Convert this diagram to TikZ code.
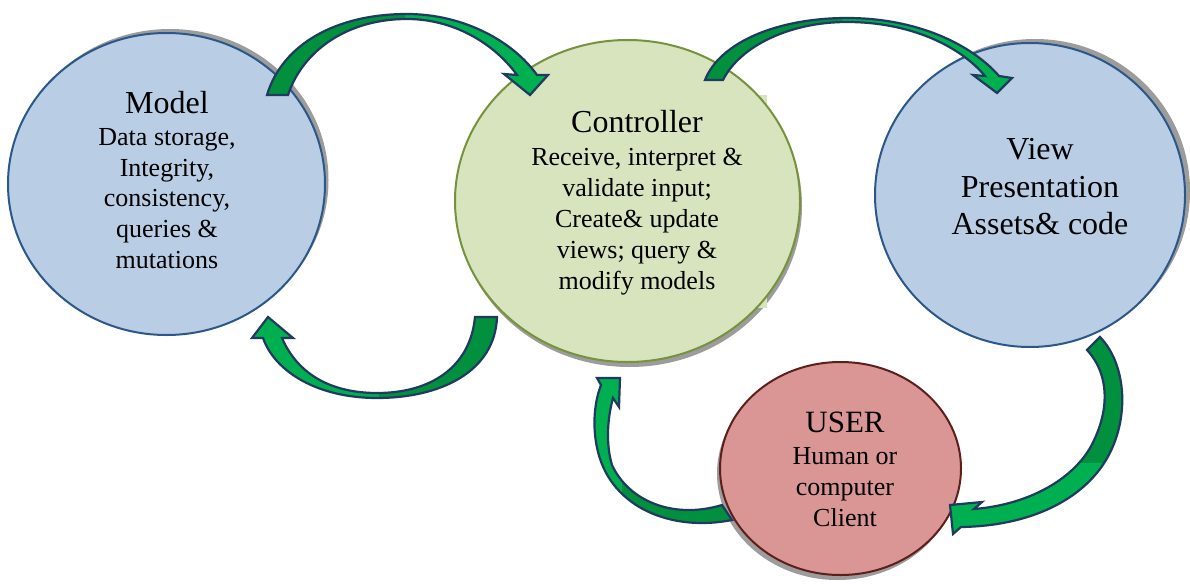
\documentclass[tikz,border=0pt]{standalone}
\usepackage{fontspec}
\setmainfont{Liberation Serif}
\usetikzlibrary{shapes.geometric}
\definecolor{modelfill}{HTML}{B9CDE5}
\definecolor{modeldraw}{HTML}{2C5789}
\definecolor{ctrlfill}{HTML}{D7E4BD}
\definecolor{ctrldraw}{HTML}{76923C}
\definecolor{userfill}{HTML}{D99694}
\definecolor{userdraw}{HTML}{5E1F1C}
\definecolor{shadowc}{HTML}{9C9C9C}
\definecolor{glight}{HTML}{00B050}
\definecolor{gdark}{HTML}{00903E}
\definecolor{navyc}{HTML}{203A60}
% curved block arrows (pixel coordinates, y downwards)
\newcommand\mvcArrA{(267,95) .. controls (282,45) and (335,14) .. (407,14) .. controls (462,14) and (512,40) .. (537,75) -- (548,75) -- (530,95) -- (504,74) -- (517,75) .. controls (493,42) and (452,19) .. (407,19) .. controls (348,19) and (303,50) .. (288,95) -- cycle}
\newcommand\mvcArrB{(497,317) .. controls (495,372) and (440,398) .. (377,398) .. controls (318,398) and (275,372) .. (263,338) -- (252,338) -- (268,317) -- (293,338) -- (282,338) .. controls (298,375) and (332,393) .. (377,393) .. controls (430,393) and (470,368) .. (475,317) -- cycle}
\newcommand\mvcArrC{(732,520) .. controls (672,532) and (612,508) .. (598,452) .. controls (592,428) and (594,403) .. (601,385) -- (597,378) -- (620,378) -- (619,407) -- (613,398) .. controls (607,420) and (606,445) .. (612,465) .. controls (628,500) and (672,520) .. (722,505) -- cycle}
\newcommand\mvcArrD{(1100,337) .. controls (1127,365) and (1130,420) .. (1106,460) .. controls (1082,500) and (1030,526) .. (961,527) -- (953,534) -- (950,505) -- (982,502) -- (974,509) .. controls (1025,505) and (1070,482) .. (1090,448) .. controls (1110,412) and (1110,375) .. (1087,350) -- cycle}
\newcommand\mvcArrE{(705,80) .. controls (720,42) and (778,18) .. (847,18) .. controls (918,18) and (972,45) .. (999,76) -- (1012,78) -- (997,93) -- (973,75) -- (985,76) .. controls (960,46) and (910,22) .. (847,22) .. controls (790,22) and (740,46) .. (723,80) -- cycle}
\begin{document}
\begin{tikzpicture}[x=1pt,y=-1pt,
  circ/.style={ellipse, inner sep=0pt, line width=2pt},
  arrowline/.style={draw=navyc, line width=2.2pt, line join=miter},
  txt/.style={anchor=north, align=center, inner sep=0pt}]
\useasboundingbox (0,0) rectangle (1190,583);
\fill[white] (0,0) rectangle (1190,583);
% shadows
\fill[shadowc] (170,180) ellipse [x radius=158.5pt, y radius=151pt];
\fill[shadowc] (629.5,206) ellipse [x radius=172.5pt, y radius=161pt];
\fill[shadowc] (1035,191) ellipse [x radius=155pt, y radius=152pt];
\fill[shadowc] (837.5,473.5) ellipse [x radius=120.5pt, y radius=106.5pt];
% text box of the controller
\fill[ctrlfill] (507,95) rectangle (767,308);
% circles
\node[circ, fill=modelfill, draw=modeldraw, minimum width=317pt, minimum height=302pt] (model) at (166.5,184) {};
\node[circ, fill=ctrlfill, draw=ctrldraw, minimum width=345pt, minimum height=322pt] (ctrl) at (627.5,201) {};
\node[circ, fill=modelfill, draw=modeldraw, minimum width=310pt, minimum height=304pt] (view) at (1030,195) {};
\node[circ, fill=userfill, draw=userdraw, minimum width=241pt, minimum height=213pt] (user) at (840.5,468.5) {};
% texts
\node[txt, font=\fontsize{26}{30.7}\selectfont] (modeltext) at (167,90.8)
  {{\fontsize{32}{36}\selectfont Model}\\[1.6pt] Data storage,\\ Integrity,\\ consistency,\\ queries \&\\ mutations};
\node[txt, font=\fontsize{26}{31}\selectfont] (ctrltext) at (637,109.8)
  {{\fontsize{32}{36}\selectfont Controller}\\[2.3pt] Receive, interpret \&\\ validate input;\\ Create\& update\\ views; query \&\\ modify models};
\node[txt, font=\fontsize{32}{37.5}\selectfont] (viewtext) at (1040,138.5)
  {View\\ Presentation\\ Assets\& code};
\node[txt, font=\fontsize{26}{31}\selectfont] (usertext) at (845,412)
  {{\fontsize{31}{35}\selectfont USER}\\[0.3pt] Human or\\ computer\\ Client};
% arrows
\fill[glight] \mvcArrA;
\begin{scope}\clip (0,0) rectangle (405,583); \fill[gdark] \mvcArrA; \end{scope}
\path[arrowline] \mvcArrA;
\fill[glight] \mvcArrB;
\begin{scope}\clip (379,0) rectangle (600,583); \fill[gdark] \mvcArrB; \end{scope}
\path[arrowline] \mvcArrB;
\fill[glight] \mvcArrC;
\begin{scope}\clip (622,470) rectangle (800,583); \fill[gdark] \mvcArrC; \end{scope}
\path[arrowline] \mvcArrC;
\fill[glight] \mvcArrD;
\begin{scope}\clip (1000,300) rectangle (1190,462); \fill[gdark] \mvcArrD; \end{scope}
\path[arrowline] \mvcArrD;
\fill[glight] \mvcArrE;
\begin{scope}\clip (650,0) rectangle (842,200); \fill[gdark] \mvcArrE; \end{scope}
\path[arrowline] \mvcArrE;
\end{tikzpicture}
\end{document}
